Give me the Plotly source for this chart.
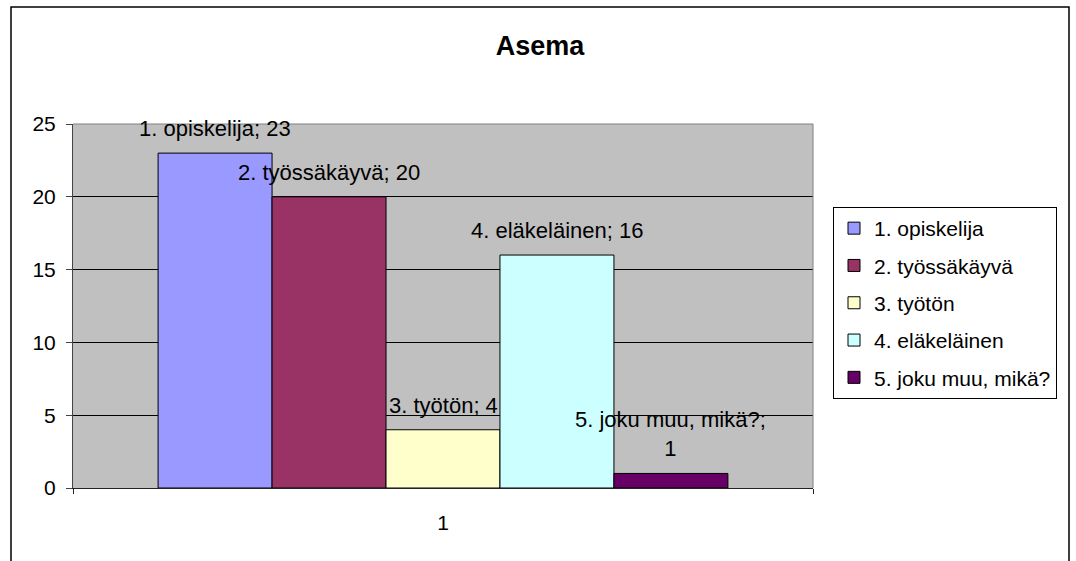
import plotly.graph_objects as go

# ---- data ----
title_text = "Asema"
category = ["1"]
series_names = ["1. opiskelija", "2. työssäkäyvä", "3. työtön", "4. eläkeläinen", "5. joku muu, mikä?"]
series_values = [23, 20, 4, 16, 1]
series_colors = ["#9999FF", "#993366", "#FFFFCC", "#CCFFFF", "#660066"]
label_wrap = [False, False, False, False, True]
y_ticks = [0, 5, 10, 15, 20, 25]

FONT = "Arial, 'Liberation Sans', sans-serif"
BARGAP = 0.23

fig = go.Figure()
for name, val, col in zip(series_names, series_values, series_colors):
    fig.add_trace(go.Bar(
        x=category, y=[val], name=name, legendgroup=name,
        marker=dict(color=col, line=dict(color="black", width=1)),
        hoverinfo="skip",
    ))

# data labels above each bar
n = len(series_names)
w = (1 - BARGAP) / n
for i, (name, val, wrap) in enumerate(zip(series_names, series_values, label_wrap)):
    xc = -(1 - BARGAP) / 2 + w * (i + 0.5)
    txt = f"{name};<br>{val}" if wrap else f"{name}; {val}"
    fig.add_annotation(x=xc, y=val, xref="x", yref="y", text=txt, showarrow=False,
                       yanchor="bottom", yshift=10, font=dict(family=FONT, size=22, color="black"))

L, R, T, B = 73, 263, 124, 73
PW, PH = 1076 - L - R, 561 - T - B

def px(x):
    return (x - L) / PW

def py(y):
    return (561 - B - y) / PH

# outer chart border
fig.add_shape(type="rect", xref="paper", yref="paper", x0=px(11), x1=px(1069), y0=py(600), y1=py(7),
              line=dict(color="black", width=1.5), layer="above")
# gray top/right plot border
fig.add_shape(type="line", xref="paper", yref="paper", x0=0, x1=1, y0=1, y1=1,
              line=dict(color="#808080", width=1), layer="above")
fig.add_shape(type="line", xref="paper", yref="paper", x0=1, x1=1, y0=0, y1=1,
              line=dict(color="#808080", width=1), layer="above")

fig.update_layout(
    width=1076, height=561,
    margin=dict(l=L, r=R, t=T, b=B, autoexpand=False),
    paper_bgcolor="white", plot_bgcolor="#C0C0C0",
    font=dict(family=FONT, size=21, color="black"),
    title=dict(text="<b>" + title_text + "</b>", x=540 / 1076, xanchor="center",
               y=1 - 46 / 561, yanchor="middle", yref="container",
               font=dict(family=FONT, size=27, color="black")),
    barmode="group", bargap=BARGAP, bargroupgap=0,
    showlegend=True,
    legend=dict(x=px(833), y=py(207), xanchor="left", yanchor="top",
                bgcolor="white", bordercolor="black", borderwidth=1,
                font=dict(family=FONT, size=21, color="black"),
                traceorder="grouped", tracegroupgap=7, itemwidth=30),
    hovermode=False,
)
fig.update_xaxes(type="category", showgrid=False, showline=True, linecolor="#222222", linewidth=1,
                 ticks="outside", tickson="boundaries", ticklen=5, tickcolor="#222222",
                 ticklabelstandoff=16, tickfont=dict(family=FONT, size=21, color="black"))
fig.update_yaxes(range=[0, 25], tickvals=y_ticks, showgrid=True, gridcolor="black", gridwidth=1,
                 zeroline=False, showline=True, linecolor="#444444", linewidth=1,
                 ticks="outside", ticklen=6, tickcolor="#444444", ticklabelstandoff=6,
                 tickfont=dict(family=FONT, size=21, color="black"))

fig.write_html("out.html", config={"displayModeBar": False},
               post_script="document.body.style.margin='0';")
